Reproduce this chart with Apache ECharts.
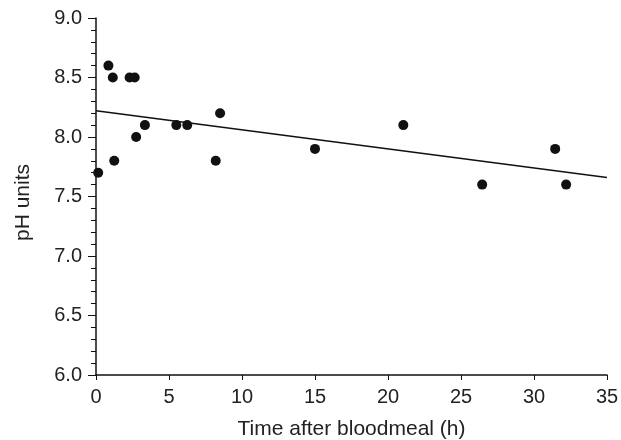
<!DOCTYPE html>
<html><head><meta charset="utf-8">
<script src="https://cdn.jsdelivr.net/npm/echarts@6/dist/echarts.min.js"></script>
<style>html,body{margin:0;padding:0;background:#fff}#c{width:621px;height:440px}</style>
</head><body><div id="c"></div>
<script>
const timeHours = [0.15, 0.85, 1.15, 1.25, 2.3, 2.65, 2.75, 3.35, 5.5, 6.25, 8.2, 8.5, 15.0, 21.05, 26.45, 31.45, 32.2];
const phValues  = [7.7, 8.6, 8.5, 7.8, 8.5, 8.5, 8.0, 8.1, 8.1, 8.1, 7.8, 8.2, 7.9, 8.1, 7.6, 7.9, 7.6];
const fitX = [0, 35];
const fitY = [8.22, 7.66];
const xTicks = [0, 5, 10, 15, 20, 25, 30, 35];
const yTicks = [6.0, 6.5, 7.0, 7.5, 8.0, 8.5, 9.0];

const font = 'Liberation Sans, Arial, sans-serif';
const txt = '#222';
const chart = echarts.init(document.getElementById('c'), null, {renderer: 'canvas'});
chart.setOption({
  animation: false,
  backgroundColor: '#fff',
  grid: {left: 96, top: 18, right: 14, bottom: 65, containLabel: false, outerBoundsMode: 'none'},
  xAxis: {
    type: 'value', min: xTicks[0], max: xTicks[xTicks.length - 1], interval: 5,
    name: 'Time after bloodmeal (h)', nameLocation: 'middle', nameGap: 44,
    nameTextStyle: {fontFamily: font, fontSize: 21, color: txt, verticalAlign: 'top'},
    axisLine: {show: true, lineStyle: {color: '#111', width: 1.5}},
    axisTick: {show: true, inside: false, length: 5, lineStyle: {color: '#111', width: 1}},
    axisLabel: {fontFamily: font, fontSize: 20, color: txt, margin: 12},
    splitLine: {show: false}
  },
  yAxis: {
    type: 'value', min: yTicks[0], max: yTicks[yTicks.length - 1], interval: 0.5,
    name: 'pH units', nameLocation: 'middle', nameGap: 62,
    nameTextStyle: {fontFamily: font, fontSize: 21, color: txt, padding: [0, 12, 0, 0]},
    axisLine: {show: true, lineStyle: {color: '#111', width: 1.5}},
    axisTick: {show: true, inside: false, length: 8, lineStyle: {color: '#111', width: 1}},
    minorTick: {show: true, splitNumber: 5, length: 5, lineStyle: {color: '#111', width: 1}},
    axisLabel: {fontFamily: font, fontSize: 20, color: txt, margin: 14, formatter: v => v.toFixed(1)},
    splitLine: {show: false}, minorSplitLine: {show: false}
  },
  series: [
    {
      type: 'line', data: fitX.map((x, i) => [x, fitY[i]]), symbol: 'none',
      lineStyle: {color: '#111', width: 1.6}, z: 2
    },
    {
      type: 'scatter', data: timeHours.map((x, i) => [x, phValues[i]]),
      symbol: 'circle', symbolSize: 10, itemStyle: {color: '#111', opacity: 1}, z: 3
    }
  ]
});
</script></body></html>
